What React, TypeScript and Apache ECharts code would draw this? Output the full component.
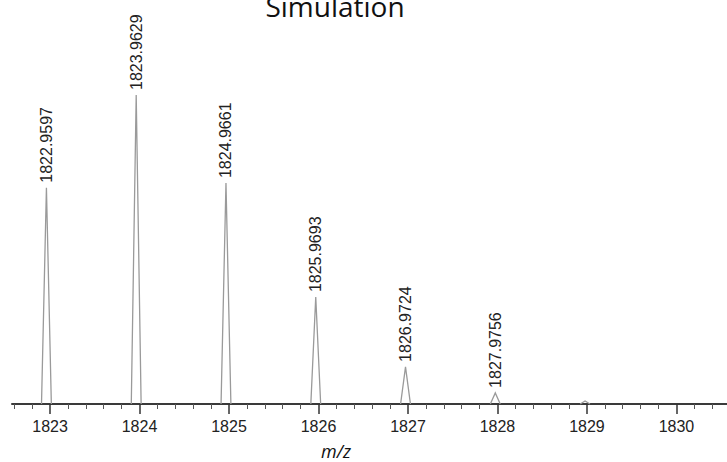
import React, { useEffect, useRef } from "react";
import * as echarts from "echarts";

const masses = [1822.9597, 1823.9629, 1824.9661, 1825.9693, 1826.9724, 1827.9756, 1828.979];
const intensities = [70, 100, 71.5, 34.6, 12, 3.6, 1.0];
const peakLabels = ["1822.9597", "1823.9629", "1824.9661", "1825.9693", "1826.9724", "1827.9756", ""];
const majorTicks = [1823, 1824, 1825, 1826, 1827, 1828, 1829, 1830];
const titleText = "Simulation";
const xAxisName = "m/z";

export default function App() {
  const ref = useRef<HTMLDivElement>(null);
  useEffect(() => {
    if (!ref.current) return;
    const chart = echarts.init(ref.current, null, { renderer: "svg" });
    const halfWidth = 0.055;
    const xMin = 1822.575;
    const xMax = 1830.565;
    const minorTicks: number[] = [];
    for (let k = Math.ceil(xMin * 5); k <= Math.floor(xMax * 5); k++) {
      if (k % 5 !== 0) minorTicks.push(k / 5);
    }
    const data = masses.map((m, i) => [m, intensities[i], peakLabels[i]]);
    chart.setOption({
      animation: false,
      grid: { left: 12, right: 0, top: 95, bottom: 58 },
      xAxis: [
        {
          type: "value",
          min: xMin,
          max: xMax,
          position: "bottom",
          axisLine: { show: true, lineStyle: { color: "#3a3a3a", width: 2 } },
          axisTick: {
            show: true,
            length: 10,
            customValues: majorTicks,
            lineStyle: { color: "#333", width: 1.5 },
          },
          axisLabel: {
            show: true,
            margin: 14,
            customValues: majorTicks,
            formatter: (v: number) => String(Math.round(v)),
            fontFamily: "Liberation Sans, Arial, sans-serif",
            fontSize: 16,
            color: "#222",
          },
          splitLine: { show: false },
        },
        {
          type: "value",
          min: xMin,
          max: xMax,
          position: "bottom",
          axisLine: { show: false },
          axisTick: {
            show: true,
            length: 5,
            customValues: minorTicks,
            lineStyle: { color: "#555", width: 1 },
          },
          axisLabel: { show: false },
          splitLine: { show: false },
        },
      ],
      yAxis: { type: "value", min: 0, max: 100, show: false },
      graphic: [
        {
          type: "text",
          x: 335,
          y: 20,
          style: {
            text: titleText,
            font: "28px 'Open Sans'",
            fill: "#111",
            textAlign: "center",
            textVerticalAlign: "bottom",
          },
        },
        {
          type: "text",
          x: 336,
          y: 451,
          style: {
            text: xAxisName,
            font: "italic 18px 'Open Sans'",
            fill: "#111",
            textAlign: "center",
            textVerticalAlign: "middle",
          },
        },
      ],
      series: [
        {
          type: "custom",
          xAxisIndex: 0,
          yAxisIndex: 0,
          clip: false,
          data,
          renderItem: (params: any, api: any) => {
            const m = api.value(0);
            const v = api.value(1);
            const label = data[params.dataIndex][2] as string;
            const p0 = api.coord([m - halfWidth, 0]);
            const p1 = api.coord([m, v]);
            const p2 = api.coord([m + halfWidth, 0]);
            const children: any[] = [
              {
                type: "polyline",
                shape: { points: [p0, p1, p2] },
                style: { stroke: "#9a9a9a", lineWidth: 1.3, fill: "none" },
              },
            ];
            if (label) {
              children.push({
                type: "text",
                x: p1[0],
                y: p1[1] - 5,
                rotation: Math.PI / 2,
                style: {
                  text: label,
                  font: "16px 'Liberation Sans', Arial, sans-serif",
                  fill: "#222",
                  textAlign: "left",
                  textVerticalAlign: "middle",
                },
              });
            }
            return { type: "group", children };
          },
        },
      ],
    });
    return () => chart.dispose();
  }, []);
  return (
    <div
      ref={ref}
      style={{ position: "fixed", left: 0, top: 0, width: 727, height: 462, background: "#fff" }}
    />
  );
}
